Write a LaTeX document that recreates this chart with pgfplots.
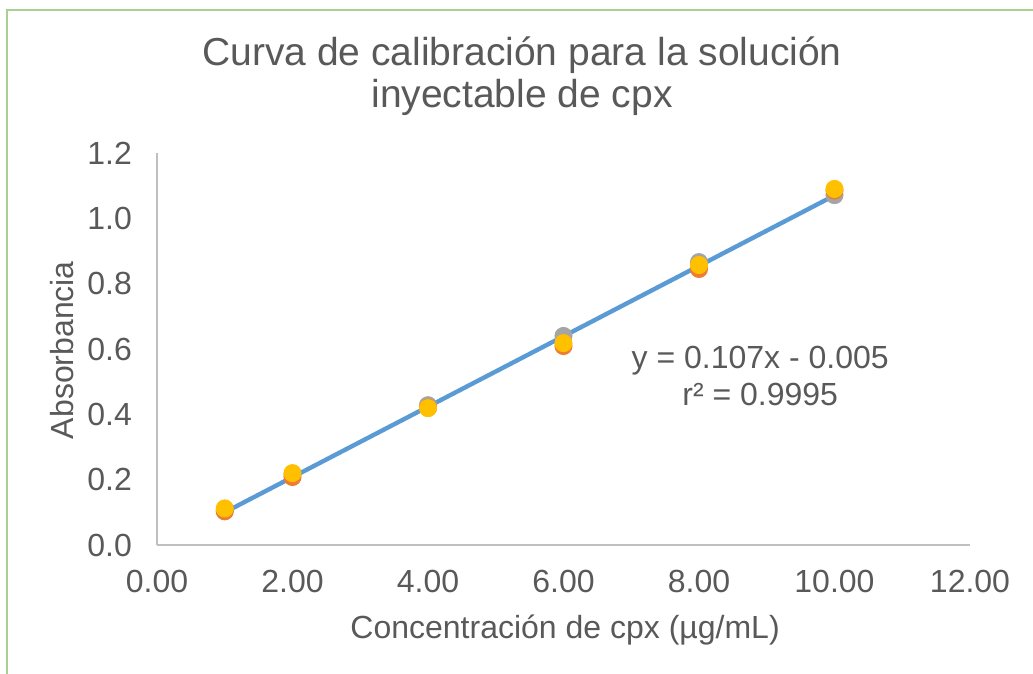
\documentclass[border=0pt]{standalone}
\usepackage{pgfplots}
\pgfplotsset{compat=1.18}
\usepackage{fontspec}
\setmainfont{Liberation Sans}
\definecolor{txt}{HTML}{595959}
\definecolor{axgray}{HTML}{BFBFBF}
\definecolor{trend}{HTML}{5B9BD5}
\definecolor{ser1}{HTML}{ED7D31}
\definecolor{ser2}{HTML}{A5A5A5}
\definecolor{ser3}{HTML}{FFC000}
\definecolor{frame}{HTML}{A9D18E}

\begin{document}
\begin{tikzpicture}
\begin{axis}[
  scale only axis,
  width=406.5pt, height=196pt,
  xmin=0, xmax=12, ymin=0, ymax=1.2,
  xtick={0,2,...,12}, ytick={0,0.2,...,1.2},
  axis x line*=bottom, axis y line*=left,
  axis line style={axgray, line width=0.9pt, -},
  major tick length=0pt,
  clip=false,
  /pgf/number format/assume math mode=true,
  xticklabel style={/pgf/number format/fixed, /pgf/number format/fixed zerofill, /pgf/number format/precision=2, yshift=-9pt},
  yticklabel style={/pgf/number format/fixed, /pgf/number format/fixed zerofill, /pgf/number format/precision=1, xshift=-9pt},
  every tick label/.append style={font=\fontsize{16}{19}\selectfont, text=txt},
]
% replicate readings
\addplot[only marks, mark=*, mark size=4.3pt, color=ser2] coordinates {
  (1,0.105) (2,0.215) (4,0.428) (6,0.640) (8,0.866) (10,1.071)};
\addplot[only marks, mark=*, mark size=4.3pt, color=ser1] coordinates {
  (1,0.103) (2,0.208) (4,0.420) (6,0.609) (8,0.845) (10,1.085)};
\addplot[only marks, mark=*, mark size=4.3pt, color=ser3] coordinates {
  (1,0.112) (2,0.220) (4,0.419) (6,0.618) (8,0.857) (10,1.090)};
% linear fit
\addplot[trend, line width=2.2pt, mark=none] coordinates {(1,0.100) (10,1.070)};

\node[text=txt, align=center, font=\fontsize{19.5}{21}\selectfont]
  at (rel axis cs:0.449,1.196) {Curva de calibración para la solución\\inyectable de cpx};
\node[text=txt, rotate=90, font=\fontsize{16}{19}\selectfont]
  at (rel axis cs:-0.117,0.497) {Absorbancia};
\node[text=txt, font=\fontsize{16}{19}\selectfont]
  at (rel axis cs:0.502,-0.217) {Concentración de cpx (µg/mL)};
\node[text=txt, align=center, font=\fontsize{16}{18.5}\selectfont]
  at (rel axis cs:0.742,0.431) {y = 0.107x - 0.005\\r² = 0.9995};

\path[use as bounding box] (rel axis cs:-0.1931,1.3903) rectangle (rel axis cs:1.0775,-0.3291);
\draw[frame, line width=1pt] (rel axis cs:-0.1845,-0.3291) -- (rel axis cs:-0.1845,1.3648) -- (rel axis cs:1.0775,1.3648);
\end{axis}
\end{tikzpicture}
\end{document}
